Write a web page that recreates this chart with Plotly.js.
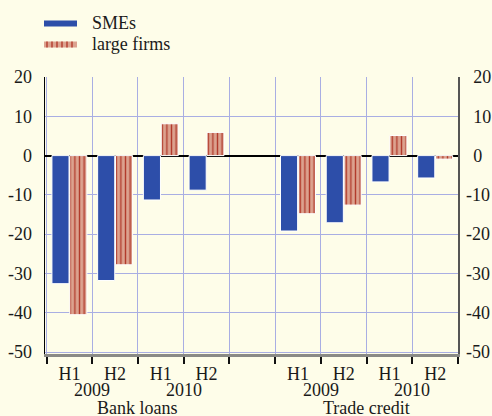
<!DOCTYPE html>
<html>
<head>
<meta charset="utf-8">
<script src="https://cdn.plot.ly/plotly-3.0.1.min.js"></script>
<style>
  html, body { margin: 0; padding: 0; background: #fefde9; }
  #chart { width: 492px; height: 416px; }
</style>
</head>
<body>
<div id="chart"></div>
<script>
// ----- data -----
const slots = ["BL-H1-2009", "BL-H2-2009", "BL-H1-2010", "BL-H2-2010", "gap",
               "TC-H1-2009", "TC-H2-2009", "TC-H1-2010", "TC-H2-2010"];
const halfLabels = ["H1", "H2", "H1", "H2", "", "H1", "H2", "H1", "H2"];
const smes       = [-32.6, -31.8, -11.3, -8.8, null, -19.2, -17.1, -6.7, -5.7];
const largeFirms = [-40.5, -27.8,   8.1,  5.9, null, -14.8, -12.6,  5.1, -0.9];

const yearLabels  = [{ text: "2009", at: 0.5 }, { text: "2010", at: 2.5 },
                     { text: "2009", at: 5.5 }, { text: "2010", at: 7.5 }];
const groupLabels = [{ text: "Bank loans", at: 1.5 }, { text: "Trade credit", at: 6.5 }];
const yTicks      = [20, 10, 0, -10, -20, -30, -40, -50];

// ----- styles -----
const BG = "#fefde9";
const BLUE = "#2d4ea9";
const SALMON = "#dca28f";
const STRIPE = "#b23b2c";
const GRID = "#a9aee3";
const INK = "#1a1a1a";
const FONT = { family: "Liberation Serif, Times New Roman, serif", size: 18, color: INK };

const traces = [
  {
    type: "bar", name: "SMEs", x: slots, y: smes,
    marker: { color: BLUE, line: { color: "#ffffff", width: 1 } },
    showlegend: false, hoverinfo: "skip"
  },
  {
    type: "bar", name: "large firms", x: slots, y: largeFirms,
    marker: {
      color: SALMON,
      line: { color: "#ffffff", width: 1 },
      pattern: { shape: "|", fillmode: "replace", bgcolor: SALMON, fgcolor: STRIPE, size: 4.6, solidity: 0.3 }
    },
    showlegend: false, hoverinfo: "skip"
  },
  // invisible trace so the right-hand axis is drawn
  { type: "scatter", x: [slots[0]], y: [0], yaxis: "y2", mode: "markers",
    marker: { opacity: 0 }, showlegend: false, hoverinfo: "skip" }
];

// ----- hand-made legend (wide flat swatches) -----
const px2x = p => (p - 45) / 413;
const px2y = p => (354 - p) / 277;

const shapes = [
  { type: "rect", xref: "paper", yref: "paper", x0: px2x(44), x1: px2x(77), y0: px2y(26.5), y1: px2y(20.5),
    fillcolor: BLUE, line: { width: 0 } },
  { type: "rect", xref: "paper", yref: "paper", x0: px2x(44), x1: px2x(77), y0: px2y(47.5), y1: px2y(41.5),
    fillcolor: SALMON, line: { width: 0 } }
];
for (let p = 47; p < 77; p += 5) {
  shapes.push({ type: "line", xref: "paper", yref: "paper", x0: px2x(p), x1: px2x(p),
    y0: px2y(47.5), y1: px2y(41.5), line: { color: STRIPE, width: 1.4 } });
}

const annotations = [
  { text: "SMEs", xref: "paper", yref: "paper", x: px2x(90), y: px2y(22.5),
    xanchor: "left", yanchor: "middle", showarrow: false, font: FONT },
  { text: "large firms", xref: "paper", yref: "paper", x: px2x(90), y: px2y(43.5),
    xanchor: "left", yanchor: "middle", showarrow: false, font: FONT }
];
yearLabels.forEach(l => annotations.push({
  text: l.text, xref: "x", yref: "paper", x: l.at, y: px2y(390),
  xanchor: "center", yanchor: "middle", showarrow: false, font: FONT
}));
groupLabels.forEach(l => annotations.push({
  text: l.text, xref: "x", yref: "paper", x: l.at, y: px2y(408),
  xanchor: "center", yanchor: "middle", showarrow: false, font: FONT
}));

const yAxisBase = {
  range: [-50.5, 20],
  tickmode: "array",
  tickvals: yTicks,
  tickfont: FONT,
  fixedrange: true
};

const layout = {
  width: 492,
  height: 416,
  margin: { l: 45, r: 34, t: 77, b: 62 },
  paper_bgcolor: BG,
  plot_bgcolor: BG,
  font: FONT,
  barmode: "group",
  bargap: 0.22,
  bargroupgap: 0.04,
  showlegend: false,
  xaxis: {
    type: "category",
    tickmode: "array",
    tickvals: slots,
    ticktext: halfLabels,
    tickson: "boundaries",
    ticks: "outside",
    ticklen: 7,
    tickwidth: 2,
    tickcolor: "#111111",
    showgrid: true,
    gridcolor: GRID,
    gridwidth: 1,
    showline: true,
    linecolor: "#8a8a86",
    linewidth: 3,
    tickfont: FONT,
    ticklabelstandoff: 1,
    fixedrange: true
  },
  yaxis: {
    ...yAxisBase,
    ticktext: yTicks.map(String),
    showgrid: true,
    gridcolor: GRID,
    gridwidth: 1,
    zeroline: true,
    zerolinecolor: "#000000",
    zerolinewidth: 2,
    showline: true,
    linecolor: "#000000",
    linewidth: 1.5,
    ticks: "",
    ticklabelstandoff: 8
  },
  yaxis2: {
    ...yAxisBase,
    // right-hand labels line up on their right edge, so pad the non-negative ones
    ticktext: yTicks.map(v => (v < 0 ? String(v) : "\u2009\u2009" + v)),
    overlaying: "y",
    side: "right",
    showgrid: false,
    zeroline: false,
    showline: true,
    linecolor: "#555555",
    linewidth: 1.5,
    ticks: "",
    ticklabelstandoff: 3
  },
  shapes,
  annotations
};

Plotly.newPlot("chart", traces, layout, { staticPlot: true, displayModeBar: false });
</script>
</body>
</html>
